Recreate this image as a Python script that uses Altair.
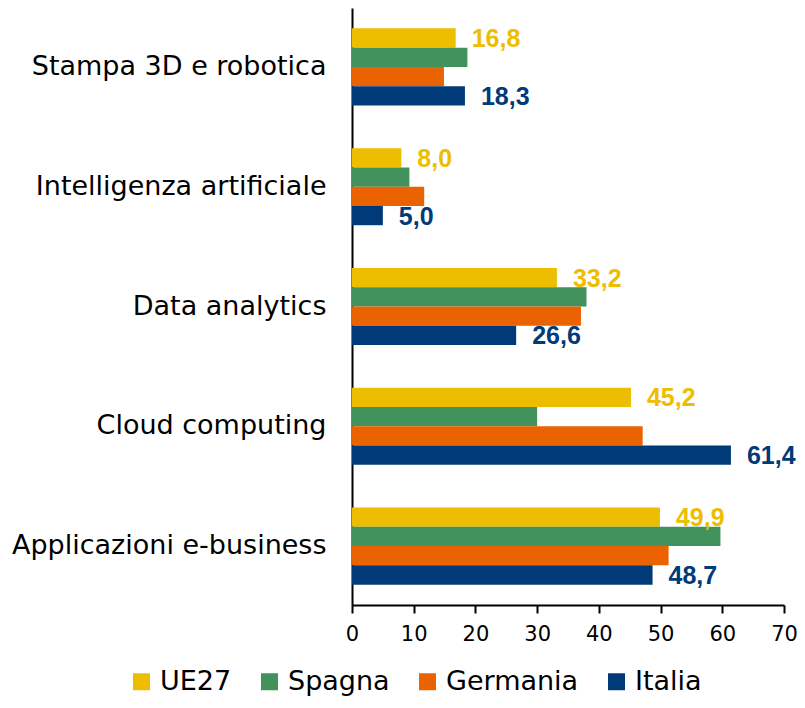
import altair as alt
import pandas as pd

categories = [
    "Stampa 3D e robotica",
    "Intelligenza artificiale",
    "Data analytics",
    "Cloud computing",
    "Applicazioni e-business",
]
series = ["UE27", "Spagna", "Germania", "Italia"]
colors = ["#EDBE00", "#41925C", "#EB6200", "#003A78"]

ue27 = [16.8, 8.0, 33.2, 45.2, 49.9]
spagna = [18.7, 9.3, 38.0, 30.0, 59.7]
germania = [14.9, 11.7, 37.1, 47.1, 51.3]
italia = [18.3, 5.0, 26.6, 61.4, 48.7]

values = {"UE27": ue27, "Spagna": spagna, "Germania": germania, "Italia": italia}
rows = []
for s in series:
    for c, v in zip(categories, values[s]):
        rows.append({"cat": c, "serie": s, "val": v,
                     "lab": f"{v:.1f}".replace(".", ",")})
df = pd.DataFrame(rows)

FONT = "DejaVu Sans"

y_enc = alt.Y("cat:N", sort=categories,
              scale=alt.Scale(paddingInner=0.357, paddingOuter=0.17),
              axis=alt.Axis(title=None, ticks=False, labelFontSize=27,
                            labelFont=FONT, labelColor="#000000",
                            labelPadding=26, labelLimit=400,
                            domainColor="#000000", domainWidth=2))
yoff = alt.YOffset("serie:N", sort=series)
color = alt.Color("serie:N", sort=series,
                  scale=alt.Scale(domain=series, range=colors),
                  legend=alt.Legend(title=None, orient="none", direction="horizontal",
                                    legendX=-224, legendY=660,
                                    symbolType="square", symbolSize=289,
                                    symbolStrokeWidth=0, labelFontSize=27,
                                    labelFont=FONT, labelColor="#000000",
                                    labelOffset=5, columnPadding=24))

bars = alt.Chart(df).mark_bar().encode(
    x=alt.X("val:Q", scale=alt.Scale(domain=[0, 70], nice=False),
            axis=alt.Axis(title=None, values=[0, 10, 20, 30, 40, 50, 60, 70],
                          grid=False, tickSize=8, tickColor="#000000",
                          tickWidth=2, domainColor="#000000", domainWidth=2,
                          labelFontSize=21, labelFont=FONT, labelFlush=False,
                          labelColor="#000000", labelPadding=10)),
    y=y_enc,
    yOffset=yoff,
    color=color,
)

labels = alt.Chart(df).transform_filter(
    alt.FieldOneOfPredicate(field="serie", oneOf=["UE27", "Italia"])
).mark_text(align="left", baseline="middle", dx=16, dy=1, fontSize=25,
            fontWeight="bold", font="Liberation Sans").encode(
    x="val:Q",
    y=alt.Y("cat:N", sort=categories),
    yOffset=yoff,
    text="lab:N",
    color=alt.Color("serie:N", sort=series,
                    scale=alt.Scale(domain=series, range=colors), legend=None),
)

chart = alt.layer(bars, labels).properties(
    width=432, height=597,
    autosize=alt.AutoSizeParams(type="none"),
    padding={"left": 344, "top": 0, "right": 13, "bottom": 92},
).configure_view(stroke=None)

chart.save("out.html", embed_options={"renderer": "svg", "actions": False})
